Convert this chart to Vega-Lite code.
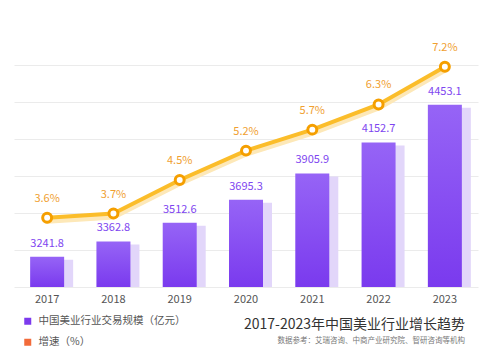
{
  "$schema": "https://vega.github.io/schema/vega-lite/v6.json",
  "autosize": {"type": "none"},
  "width": 464,
  "height": 222,
  "padding": {"left": 14, "top": 65, "right": 14, "bottom": 73},
  "background": "#ffffff",
  "config": {
    "font": "Noto Sans CJK SC",
    "view": {"stroke": null}
  },
  "title": {
    "text": "2017-2023年中国美业行业增长趋势",
    "subtitle": "数据参考：艾瑞咨询、中商产业研究院、智研咨询等机构",
    "orient": "bottom",
    "anchor": "end",
    "dx": -13,
    "dy": -40,
    "offset": 10,
    "fontSize": 14,
    "fontWeight": "normal",
    "color": "#333333",
    "subtitleFontSize": 7.5,
    "subtitleColor": "#777777",
    "subtitlePadding": 5
  },
  "data": {
    "values": [
      {"year": "2017", "scale": 3241.8, "growth": 3.6},
      {"year": "2018", "scale": 3362.8, "growth": 3.7},
      {"year": "2019", "scale": 3512.6, "growth": 4.5},
      {"year": "2020", "scale": 3695.3, "growth": 5.2},
      {"year": "2021", "scale": 3905.9, "growth": 5.7},
      {"year": "2022", "scale": 4152.7, "growth": 6.3},
      {"year": "2023", "scale": 4453.1, "growth": 7.2}
    ]
  },
  "encoding": {
    "x": {
      "field": "year",
      "type": "ordinal",
      "scale": {"paddingOuter": 0, "paddingInner": 0},
      "axis": {
        "title": null,
        "labelAngle": 0,
        "domain": false,
        "ticks": false,
        "labelPadding": 6,
        "labelFontSize": 11,
        "labelColor": "#555555"
      }
    }
  },
  "layer": [
    {
      "layer": [
        {
          "mark": {"type": "bar", "size": 42, "xOffset": 5, "yOffset": 3, "color": "#e2d6fa"},
          "encoding": {
            "y": {
              "field": "scale",
              "type": "quantitative",
              "scale": {"domain": [3000, 4770], "zero": false, "nice": false},
              "axis": {
                "title": null,
                "labels": false,
                "ticks": false,
                "domain": false,
                "values": [3000, 3295, 3590, 3885, 4180, 4475, 4770],
                "tickCount": 10,
                "grid": true,
                "gridColor": "#ebebeb",
                "gridWidth": 1
              }
            },
            "y2": {"datum": 3000}
          }
        },
        {
          "mark": {
            "type": "bar",
            "size": 34,
            "color": {
              "gradient": "linear",
              "x1": 0, "y1": 0, "x2": 0, "y2": 1,
              "stops": [
                {"offset": 0, "color": "#9664f6"},
                {"offset": 1, "color": "#7a3aee"}
              ]
            }
          },
          "encoding": {
            "y": {"field": "scale", "type": "quantitative"},
            "y2": {"datum": 3000}
          }
        },
        {
          "mark": {"type": "text", "dy": -13, "fontSize": 11, "color": "#7e45f0", "baseline": "middle"},
          "encoding": {
            "y": {"field": "scale", "type": "quantitative"},
            "text": {"field": "scale", "type": "quantitative", "format": ".1f"}
          }
        }
      ]
    },
    {
      "transform": [{"calculate": "format(datum.growth, '.1f') + '%'", "as": "label"}],
      "layer": [
        {
          "mark": {"type": "line", "strokeWidth": 6, "color": "#fde8b8", "yOffset": 3, "strokeCap": "round"},
          "encoding": {
            "y": {
              "field": "growth",
              "type": "quantitative",
              "scale": {"domain": [1.95, 7.24], "zero": false, "nice": false},
              "axis": null
            }
          }
        },
        {
          "mark": {"type": "line", "strokeWidth": 4, "color": "#fbbd2a", "strokeCap": "round"},
          "encoding": {
            "y": {"field": "growth", "type": "quantitative"}
          }
        },
        {
          "mark": {"type": "point", "filled": true, "size": 80, "fill": "#ffffff", "stroke": "#f59f00", "strokeWidth": 3, "opacity": 1},
          "encoding": {
            "y": {"field": "growth", "type": "quantitative"}
          }
        },
        {
          "mark": {"type": "text", "dy": -19, "fontSize": 11, "color": "#f0a030", "baseline": "middle"},
          "encoding": {
            "y": {"field": "growth", "type": "quantitative"},
            "text": {"field": "label", "type": "nominal"}
          }
        }
      ]
    },
    {
      "data": {
        "values": [
          {"series": "中国美业行业交易规模（亿元）"},
          {"series": "增速（%）"}
        ]
      },
      "mark": {"type": "point", "shape": "square", "filled": true, "opacity": 0},
      "encoding": {
        "x": null,
        "color": {
          "field": "series",
          "type": "nominal",
          "sort": null,
          "scale": {
            "domain": ["中国美业行业交易规模（亿元）", "增速（%）"],
            "range": ["#7c3aed", "#f26b3a"]
          },
          "legend": {
            "title": null,
            "orient": "none",
            "legendX": 8.5,
            "legendY": 251,
            "direction": "vertical",
            "padding": 0,
            "symbolType": "square",
            "symbolSize": 49,
            "symbolOpacity": 1,
            "symbolStrokeWidth": 0,
            "labelFontSize": 10.5,
            "labelColor": "#555555",
            "labelOffset": 5.5,
            "rowPadding": 10
          }
        }
      }
    }
  ],
  "resolve": {"scale": {"y": "independent"}}
}
